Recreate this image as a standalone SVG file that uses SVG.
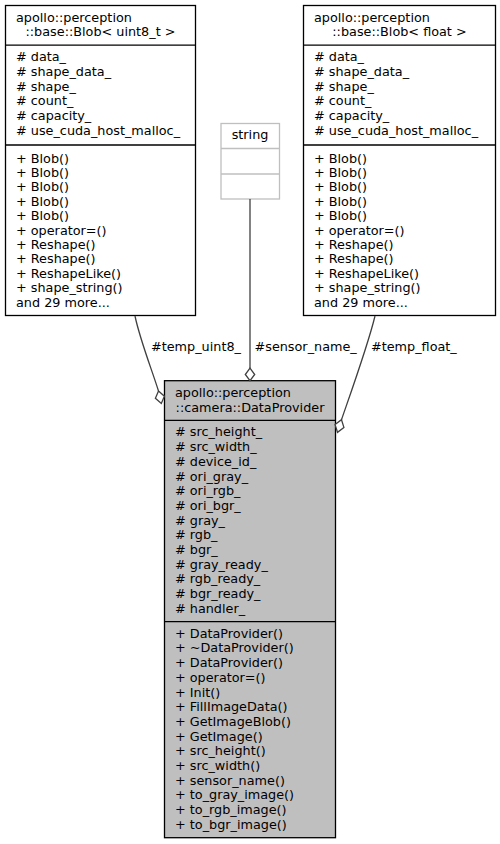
<svg xmlns="http://www.w3.org/2000/svg" width="500" height="844" viewBox="0 0 500 844">
<style>
text{font-family:"DejaVu Sans",sans-serif;font-size:12.8px;fill:#000}
.c{text-anchor:middle}
.box{fill:#fff;stroke:#000;stroke-width:1.3}
.main{fill:#bfbfbf;stroke:#000;stroke-width:1.3}
.ghost{fill:#fff;stroke:#bfbfbf;stroke-width:1.3}
.div{stroke:#000;stroke-width:1.3}
.gdiv{stroke:#bfbfbf;stroke-width:1.3}
.edge{fill:none;stroke:#404040;stroke-width:1.3}
.dia{fill:#fff;stroke:#404040;stroke-width:1.3}
</style>
<rect width="500" height="844" fill="#fff"/>
<g id="node-blob-uint8">
<rect class="box" x="5.5" y="5.5" width="190" height="310"/>
<line class="div" x1="5.5" y1="45.1" x2="195.5" y2="45.1"/>
<line class="div" x1="5.5" y1="145" x2="195.5" y2="145"/>
<text x="16" y="21.6">apollo::perception</text>
<text class="c" x="100.5" y="36.3">::base::Blob&lt; uint8_t &gt;</text>
<text x="16" y="61.2"># data_</text>
<text x="16" y="75.9"># shape_data_</text>
<text x="16" y="90.6"># shape_</text>
<text x="16" y="105.3"># count_</text>
<text x="16" y="120"># capacity_</text>
<text x="16" y="134.7"># use_cuda_host_malloc_</text>
<text x="16" y="162.5">+ Blob()</text>
<text x="16" y="176.9">+ Blob()</text>
<text x="16" y="191.3">+ Blob()</text>
<text x="16" y="205.7">+ Blob()</text>
<text x="16" y="220.1">+ Blob()</text>
<text x="16" y="234.5">+ operator=()</text>
<text x="16" y="248.9">+ Reshape()</text>
<text x="16" y="263.3">+ Reshape()</text>
<text x="16" y="277.7">+ ReshapeLike()</text>
<text x="16" y="292.1">+ shape_string()</text>
<text x="16" y="306.5">and 29 more...</text>
</g>
<g id="node-string">
<rect class="ghost" x="221" y="123.5" width="58.5" height="75.5"/>
<line class="gdiv" x1="221" y1="148.5" x2="279.5" y2="148.5"/>
<line class="gdiv" x1="221" y1="174" x2="279.5" y2="174"/>
<text class="c" x="250" y="139">string</text>
</g>
<g id="node-blob-float">
<rect class="box" x="303.5" y="5.5" width="192" height="310"/>
<line class="div" x1="303.5" y1="45.1" x2="495.5" y2="45.1"/>
<line class="div" x1="303.5" y1="145" x2="495.5" y2="145"/>
<text x="314" y="21.6">apollo::perception</text>
<text class="c" x="399.5" y="36.3">::base::Blob&lt; float &gt;</text>
<text x="314" y="61.2"># data_</text>
<text x="314" y="75.9"># shape_data_</text>
<text x="314" y="90.6"># shape_</text>
<text x="314" y="105.3"># count_</text>
<text x="314" y="120"># capacity_</text>
<text x="314" y="134.7"># use_cuda_host_malloc_</text>
<text x="314" y="162.5">+ Blob()</text>
<text x="314" y="176.9">+ Blob()</text>
<text x="314" y="191.3">+ Blob()</text>
<text x="314" y="205.7">+ Blob()</text>
<text x="314" y="220.1">+ Blob()</text>
<text x="314" y="234.5">+ operator=()</text>
<text x="314" y="248.9">+ Reshape()</text>
<text x="314" y="263.3">+ Reshape()</text>
<text x="314" y="277.7">+ ReshapeLike()</text>
<text x="314" y="292.1">+ shape_string()</text>
<text x="314" y="306.5">and 29 more...</text>
</g>
<g id="node-dataprovider">
<rect class="main" x="164.5" y="380.7" width="171" height="457"/>
<line class="div" x1="164.5" y1="420.3" x2="335.5" y2="420.3"/>
<line class="div" x1="164.5" y1="621.6" x2="335.5" y2="621.6"/>
<text x="175" y="396.8">apollo::perception</text>
<text class="c" x="250" y="411.5">::camera::DataProvider</text>
<text x="175" y="436.4"># src_height_</text>
<text x="175" y="451.1"># src_width_</text>
<text x="175" y="465.8"># device_id_</text>
<text x="175" y="480.5"># ori_gray_</text>
<text x="175" y="495.2"># ori_rgb_</text>
<text x="175" y="509.9"># ori_bgr_</text>
<text x="175" y="524.6"># gray_</text>
<text x="175" y="539.3"># rgb_</text>
<text x="175" y="554"># bgr_</text>
<text x="175" y="568.7"># gray_ready_</text>
<text x="175" y="583.4"># rgb_ready_</text>
<text x="175" y="598.1"># bgr_ready_</text>
<text x="175" y="612.8"># handler_</text>
<text x="175" y="637.7">+ DataProvider()</text>
<text x="175" y="652.4">+ ~DataProvider()</text>
<text x="175" y="667.1">+ DataProvider()</text>
<text x="175" y="681.8">+ operator=()</text>
<text x="175" y="696.5">+ Init()</text>
<text x="175" y="711.2">+ FillImageData()</text>
<text x="175" y="725.9">+ GetImageBlob()</text>
<text x="175" y="740.6">+ GetImage()</text>
<text x="175" y="755.3">+ src_height()</text>
<text x="175" y="770">+ src_width()</text>
<text x="175" y="784.7">+ sensor_name()</text>
<text x="175" y="799.4">+ to_gray_image()</text>
<text x="175" y="814.1">+ to_rgb_image()</text>
<text x="175" y="828.8">+ to_bgr_image()</text>
</g>
<g id="connectors">
<g id="edge-temp-uint8">
<path class="edge" d="M135,316 C140,340 152,370 158.5,391"/>
<polygon class="dia" points="158.5,391 164.4,396.2 161.3,403.5 155.4,398.3"/>
<text x="151" y="350.5">#temp_uint8_</text>
</g>
<g id="edge-sensor-name">
<path class="edge" d="M250,199 L250,368.2"/>
<polygon class="dia" points="250,368.2 254.7,374.5 250,380.7 245.3,374.5"/>
<text x="254.5" y="350.5">#sensor_name_</text>
</g>
<g id="edge-temp-float">
<path class="edge" d="M375,316 C368,345 350,395 341.5,419.7"/>
<polygon class="dia" points="341.5,419.7 343.9,427.4 337.5,432.3 335.1,424.6"/>
<text x="371" y="350.5">#temp_float_</text>
</g>
</g>
</svg>
